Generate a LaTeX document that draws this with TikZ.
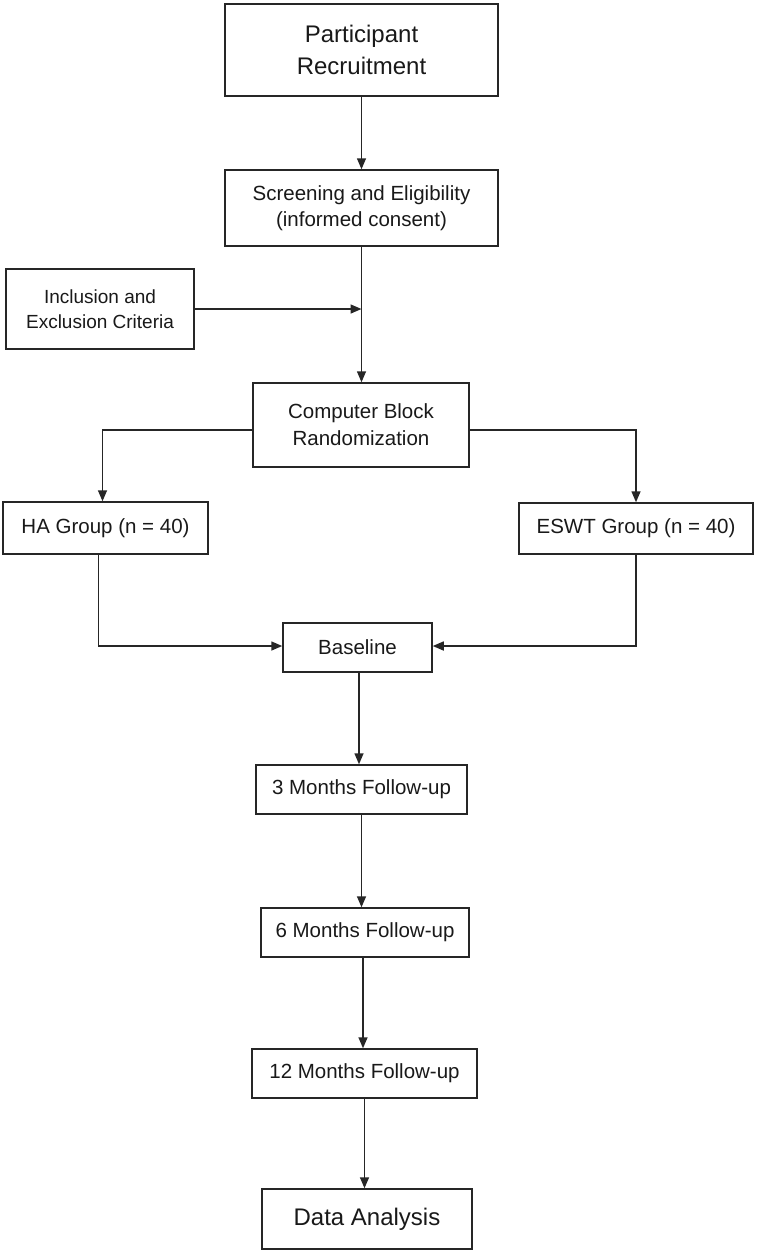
\documentclass[tikz,border=0pt]{standalone}
\usepackage{fontspec}
\setmainfont{Liberation Sans}
\usetikzlibrary{arrows.meta}
\begin{document}
\begin{tikzpicture}[x=1pt,y=-1pt,
  box/.style={draw=black!85,line width=1.5pt,inner sep=0pt,align=center,text=black!90,
    font=\fontsize{20.5}{26}\selectfont},
  bigbox/.style={box,font=\fontsize{24}{32}\selectfont},
  smallbox/.style={box,font=\fontsize{19}{24.5}\selectfont},
  arr/.style={draw=black!85,line width=1.5pt,-{Triangle[length=11pt,width=9pt]}}]
\useasboundingbox (0,0) rectangle (758,1254);
\fill[white] (0,0) rectangle (758,1254);
\node[bigbox,minimum width=273pt,minimum height=92pt] (pr) at (361.5,50) {Participant\\Recruitment};
\node[box,minimum width=273pt,minimum height=76pt] (se) at (361.5,208) {Screening and Eligibility\\(informed consent)};
\node[smallbox,minimum width=188pt,minimum height=80pt] (ie) at (100,309) {Inclusion and\\Exclusion Criteria};
\node[box,minimum width=216pt,minimum height=84pt,font=\fontsize{20.5}{27}\selectfont] (cbr) at (361,425) {Computer Block\\Randomization};
\node[box,minimum width=205pt,minimum height=52pt] (ha) at (105.5,528) {HA Group (n = 40)};
\node[box,minimum width=234pt,minimum height=51pt] (es) at (636,528.5) {ESWT Group (n = 40)};
\node[box,minimum width=149pt,minimum height=49pt] (bl) at (357.5,647.5) {Baseline};
\node[box,minimum width=211pt,minimum height=49pt] (m3) at (361.5,789.5) {3 Months Follow-up};
\node[box,minimum width=208pt,minimum height=49pt] (m6) at (365,932.5) {6 Months Follow-up};
\node[box,minimum width=225pt,minimum height=49pt] (m12) at (364.5,1073.5) {12 Months Follow-up};
\node[bigbox,minimum width=210pt,minimum height=60pt] (da) at (367,1219) {Data Analysis};
\coordinate (join) at (se.south |- ie.east);
\draw[arr] (pr.south) -- (pr.south |- se.north);
\draw[arr] (se.south) -- (se.south |- cbr.north);
\draw[arr] (ie.east) -- (join);
\draw[arr] ([yshift=-5pt]cbr.west) -| ([xshift=-3pt]ha.north);
\draw[arr] ([yshift=-5pt]cbr.east) -| (es.north);
\draw[arr] ([xshift=-7pt]ha.south) |- ([yshift=1.5pt]bl.west);
\draw[arr] (es.south) |- ([yshift=1.5pt]bl.east);
\draw[arr] ([xshift=1.5pt]bl.south) -- ([xshift=1.5pt]bl.south |- m3.north);
\draw[arr] (m3.south) -- (m3.south |- m6.north);
\draw[arr] ([xshift=-2pt]m6.south) -- ([xshift=-2pt]m6.south |- m12.north);
\draw[arr] (m12.south) -- (m12.south |- da.north);
\end{tikzpicture}
\end{document}
